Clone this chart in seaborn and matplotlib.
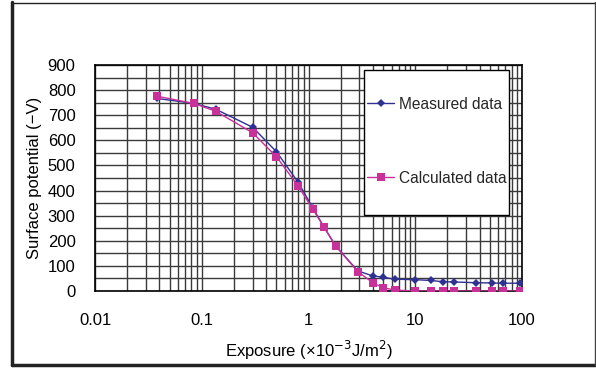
import numpy as np
import pandas as pd
import matplotlib
matplotlib.use("Agg")
import matplotlib.pyplot as plt
import seaborn as sns
from matplotlib.lines import Line2D
from matplotlib.patches import Rectangle
from matplotlib.ticker import LogLocator, MultipleLocator, FixedLocator

# ---- data ----
exposure_meas = [0.038, 0.084, 0.135, 0.3, 0.5, 0.8, 1.1, 1.4, 1.8, 2.9, 4, 5, 6.4, 10, 14, 18, 23, 37, 52, 66, 95]
measured = [767, 747, 724, 652, 555, 433, 330, 254, 179, 80, 60, 55, 47, 45, 42, 37, 36, 33, 32, 31, 31]
exposure_calc = [0.038, 0.084, 0.135, 0.3, 0.5, 0.8, 1.1, 1.4, 1.8, 2.9, 4, 5, 6.4, 10, 14, 18, 23, 37, 52, 66, 95]
calculated = [776, 747, 716, 630, 535, 418, 325, 254, 179, 77, 33, 13, 4, 0, 0, 0, 0, 0, 0, 0, 0]
series_names = ["Measured data", "Calculated data"]
x_ticks = [0.01, 0.1, 1, 10, 100]
x_tick_labels = ["0.01", "0.1", "1", "10", "100"]
y_ticks = [0, 100, 200, 300, 400, 500, 600, 700, 800, 900]

df = pd.concat([
    pd.DataFrame({"x": exposure_meas, "y": measured, "series": series_names[0]}),
    pd.DataFrame({"x": exposure_calc, "y": calculated, "series": series_names[1]}),
])

sns.set_theme(style="white")
plt.rcParams["font.family"] = ["Liberation Sans", "DejaVu Sans"]

fig = plt.figure(figsize=(5.96, 3.69), dpi=100)
ax = fig.add_axes([95/596, 1-291/369, 427/596, 226/369])

colors = {series_names[0]: "#2E3192", series_names[1]: "#C8309A"}
markers = {series_names[0]: "D", series_names[1]: "s"}
sizes = {series_names[0]: 4.5, series_names[1]: 6}

for name in series_names:
    sub = df[df["series"] == name]
    sns.lineplot(data=sub, x="x", y="y", ax=ax, color=colors[name], marker=markers[name],
                 markersize=sizes[name], markeredgewidth=0, linewidth=1.0, label=name,
                 zorder=3 if name == series_names[0] else 4, estimator=None, sort=False)

ax.set_xscale("log")
ax.set_xlim(0.01, 100)
ax.set_ylim(0, 900)
ax.xaxis.set_major_locator(FixedLocator(x_ticks))
ax.set_xticklabels(x_tick_labels)
ax.xaxis.set_minor_locator(LogLocator(base=10, subs=np.arange(2, 10)))
ax.xaxis.set_minor_formatter(matplotlib.ticker.NullFormatter())
ax.yaxis.set_major_locator(FixedLocator(y_ticks))
ax.yaxis.set_minor_locator(MultipleLocator(50))
ax.grid(True, which="both", color="#3a3a3a", linewidth=1.0)
ax.set_axisbelow(True)
for s in ax.spines.values():
    s.set_color("black")
    s.set_linewidth(1.2)
ax.tick_params(axis="both", which="both", length=0)
ax.tick_params(axis="x", pad=16, labelsize=12, colors="black")
ax.tick_params(axis="y", pad=14, labelsize=12, colors="black")

ax.set_xlabel("Exposure (×10$^{-3}$J/m$^{2}$)", fontsize=12, color="black", labelpad=8)
ax.set_ylabel("Surface potential (−V)", fontsize=12, color="black", labelpad=4)

# legend box
x0 = (364-95)/427; x1 = (509-95)/427
y0 = (291-215)/226; y1 = (291-70)/226
ax.add_patch(Rectangle((x0, y0), x1-x0, y1-y0, transform=ax.transAxes,
                       facecolor="white", edgecolor="black", linewidth=1.0, zorder=5))
leg = ax.legend(loc="upper left", bbox_to_anchor=(x0, (291-93.5)/226), frameon=False,
                fontsize=11.2, labelspacing=3.8, handlelength=1.75, handletextpad=0.32,
                borderpad=0.2, borderaxespad=0)
leg.set_zorder(6)

# outer frame
fig.add_artist(Line2D([12/596, 12/596], [1-2/369, 1-365/369], transform=fig.transFigure, color="#222222", linewidth=2.5))
fig.add_artist(Line2D([12/596, 595/596], [1-365/369, 1-365/369], transform=fig.transFigure, color="#222222", linewidth=2.5))
fig.add_artist(Line2D([12/596, 595/596], [1-2.5/369, 1-2.5/369], transform=fig.transFigure, color="#222222", linewidth=1.0))
fig.add_artist(Line2D([594.5/596, 594.5/596], [1-2/369, 1-365/369], transform=fig.transFigure, color="#444444", linewidth=1.0))

fig.savefig("out.png", dpi=100)
